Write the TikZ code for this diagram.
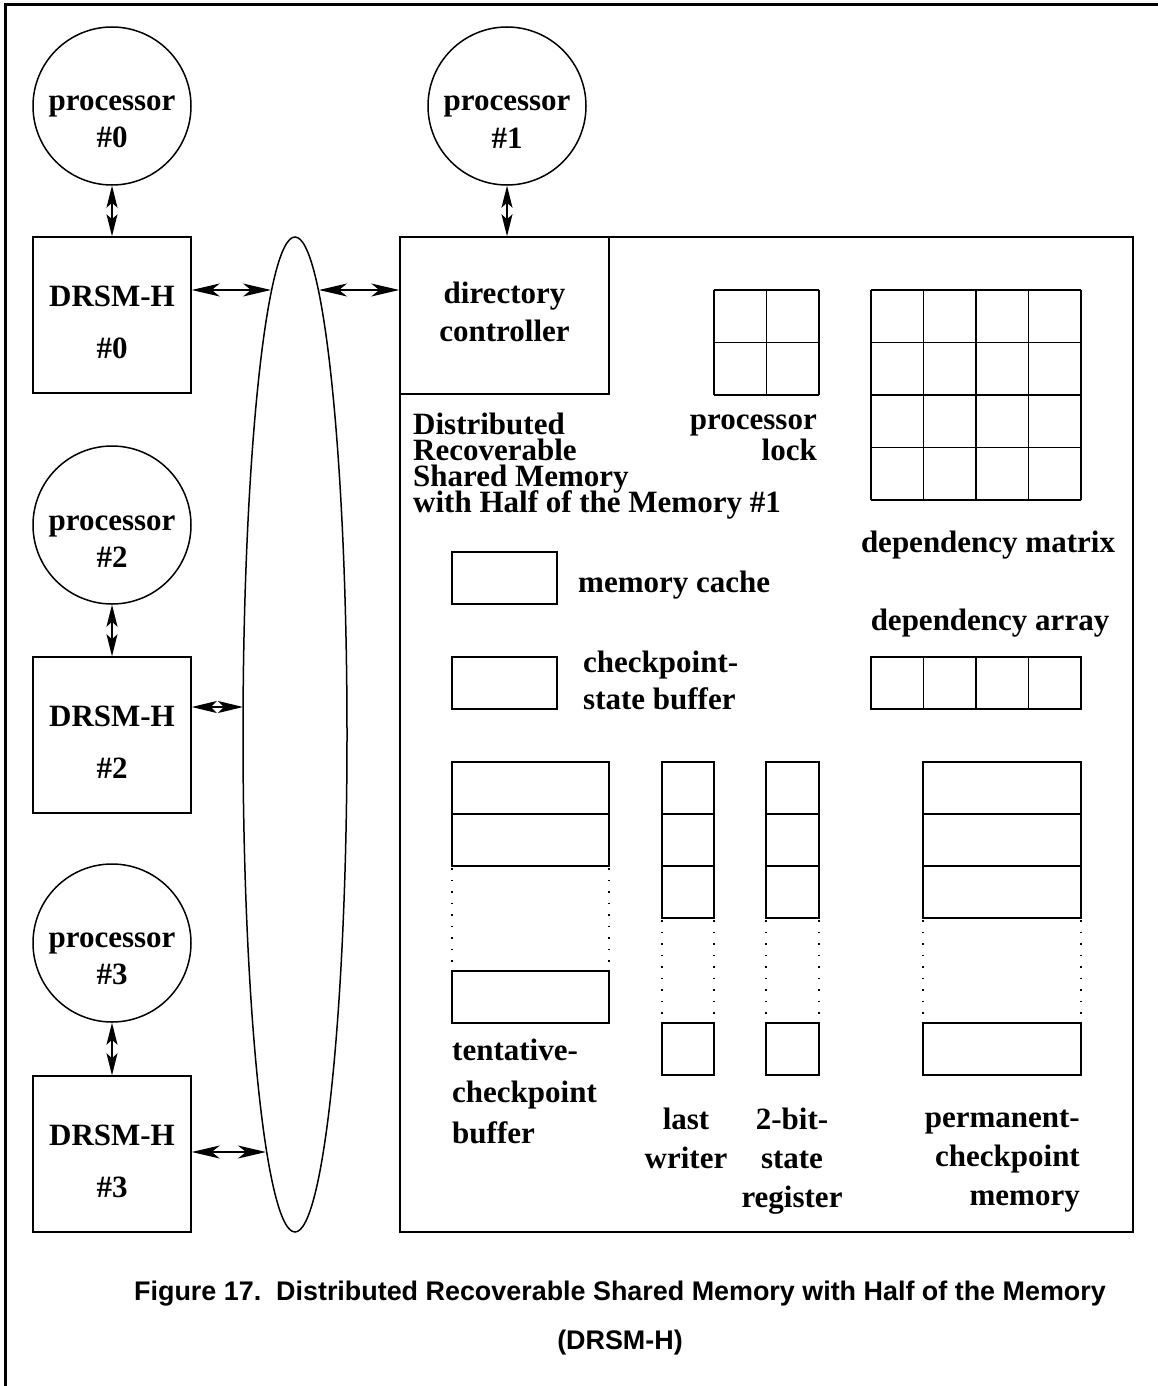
\documentclass[tikz,border=0pt]{standalone}
\usepackage{fontspec}
\setmainfont{Liberation Serif}
\newfontfamily\capfont{Liberation Sans}
\usepackage{tikz}
\usetikzlibrary{arrows.meta,shapes.geometric}
\newcommand\tightlines{\lineskiplimit=-50pt\relax}

\begin{document}
\begin{tikzpicture}[x=1pt,y=-1pt,>={Stealth[length=28pt,width=13pt,inset=8pt]},
 lbl/.style={inner sep=0pt,font=\fontsize{31}{40}\selectfont\bfseries\tightlines},
 proc/.style={draw,circle,line width=1.5pt,minimum size=158pt,inner sep=0pt,align=center,text height=84pt,font=\fontsize{31}{37}\selectfont\bfseries},
 drsm/.style={draw,line width=1.5pt,minimum width=158pt,minimum height=156pt,align=center,text height=87pt,font=\fontsize{31}{52}\selectfont\bfseries},
 link/.style={<->,line width=1.3pt},
 shortlink/.style={{Stealth[length=22pt,width=11pt,inset=5pt]}-{Stealth[length=22pt,width=11pt,inset=5pt]},line width=1.3pt},
 reg/.style={line width=1.5pt},
 gap/.style={line width=1.5pt,dash pattern=on 1.5pt off 10pt}]
\useasboundingbox (0,0) rectangle (1158,1386);
\draw[line width=3pt] (5,1386) -- (5,5) -- (1158,5);

% processors and their DRSM-H nodes
\node[proc] (p0) at (112,106) {processor\\\#0};
\node[proc] (p1) at (507,106) {processor\\\#1};
\node[proc] (p2) at (112,525) {processor\\\#2};
\node[proc] (p3) at (112,943) {processor\\\#3};
\node[drsm] (d0) at (112,315) {DRSM-H\\\#0};
\node[drsm] (d2) at (112,735) {DRSM-H\\\#2};
\node[drsm] (d3) at (112,1154) {DRSM-H\\\#3};

% interconnect and DRSM-H #1
\node[draw,ellipse,line width=1.5pt,minimum width=104pt,minimum height=995pt,inner sep=0pt] (bus) at (295,734.5) {};
\node[draw,line width=1.5pt,minimum width=733pt,minimum height=995pt,inner sep=0pt] (mem) at (766.5,734.5) {};
\node[draw,line width=1.5pt,minimum width=209pt,minimum height=157pt,anchor=north west,align=center,text depth=8pt,font=\fontsize{31}{38}\selectfont\bfseries] (dir) at (mem.north west) {directory\\controller};

\coordinate (b0) at (271,290);
\coordinate (b1) at (319,290);
\coordinate (b2) at (243,707);
\coordinate (b3) at (266,1152);
\draw[shortlink] (p0) -- (d0);
\draw[shortlink] (p2) -- (d2);
\draw[shortlink] (p3) -- (d3);
\draw[shortlink] (p1) -- (p1 |- mem.north);
\draw[link] (d0.east |- b0) -- (b0);
\draw[link] (b1) -- (b1 -| mem.west);
\draw[shortlink,{Stealth[length=25pt,width=12pt,inset=6pt]}-{Stealth[length=25pt,width=12pt,inset=6pt]}] (d2.east |- b2) -- (b2);
\draw[link] (d3.east |- b3) -- (b3);

% labels inside DRSM-H #1
\node[lbl,align=left,anchor=north west,font=\fontsize{31}{26}\selectfont\bfseries\tightlines] (title) at (413,413) {Distributed\\Recoverable\\Shared Memory\\with Half of the Memory \#1};
\node[lbl,align=right,anchor=north east,font=\fontsize{31}{31}\selectfont\bfseries\tightlines] (lockl) at (817,415) {processor\\lock};
\node[lbl,anchor=base] (matl) at (988,552) {dependency matrix};
\node[lbl,anchor=base] (arrl) at (990,630) {dependency array};
\node[lbl,anchor=base west] (cachel) at (578,592) {memory cache};
\node[lbl,align=left,anchor=north west,font=\fontsize{31}{37}\selectfont\bfseries\tightlines] (csbl) at (583,651) {checkpoint-\\state buffer};
\node[lbl,align=left,anchor=north west,font=\fontsize{31}{41.5}\selectfont\bfseries\tightlines] (tentl) at (452,1039) {tentative-\\checkpoint\\buffer};
\node[lbl,align=center,anchor=north,font=\fontsize{31}{39}\selectfont\bfseries\tightlines] (lastl) at (686,1108) {last\\writer};
\node[lbl,align=center,anchor=north,font=\fontsize{31}{39}\selectfont\bfseries\tightlines] (bitl) at (792,1108) {2-bit-\\state\\register};
\node[lbl,align=right,anchor=north east,font=\fontsize{31}{39}\selectfont\bfseries\tightlines] (perml) at (1080,1110) {permanent-\\checkpoint\\memory};

% processor lock and dependency matrix
\foreach \i in {0,1,2}{
  \draw[reg] (714+52.5*\i,290) -- (714+52.5*\i,395);
  \draw[reg] (714,290+52.5*\i) -- (819,290+52.5*\i);}
\foreach \i in {0,...,4}{
  \draw[reg] (871+52.5*\i,290) -- (871+52.5*\i,500);
  \draw[reg] (871,290+52.5*\i) -- (1081,290+52.5*\i);}
% dependency array
\draw[reg] (871,657) rectangle (1081,709);
\foreach \i in {1,2,3}
  \draw[reg] (871+52.5*\i,657) -- (871+52.5*\i,709);
% memory cache, checkpoint-state buffer
\draw[reg] (452,552) rectangle (557,604);
\draw[reg] (452,657) rectangle (557,709);
% tentative-checkpoint buffer
\draw[reg] (452,762) rectangle (609,814) (452,814) rectangle (609,866);
\draw[gap] (452,868) -- (452,962) (609,868) -- (609,962);
\draw[reg] (452,971) rectangle (609,1023);
% last writer, 2-bit-state register, permanent-checkpoint memory
\foreach \l/\r in {662/714,766/819,923/1081}{
  \draw[reg] (\l,762) rectangle (\r,814) (\l,814) rectangle (\r,866) (\l,866) rectangle (\r,918);
  \draw[gap] (\l,920) -- (\l,1014) (\r,920) -- (\r,1014);
  \draw[reg] (\l,1023) rectangle (\r,1075);}

\node[align=center,anchor=north,inner sep=0pt,font=\capfont\bfseries\fontsize{26.9}{49}\selectfont] (caption) at (620,1281) {Figure 17.~~Distributed Recoverable Shared Memory with Half of the Memory\\(DRSM-H)};
\end{tikzpicture}
\end{document}
